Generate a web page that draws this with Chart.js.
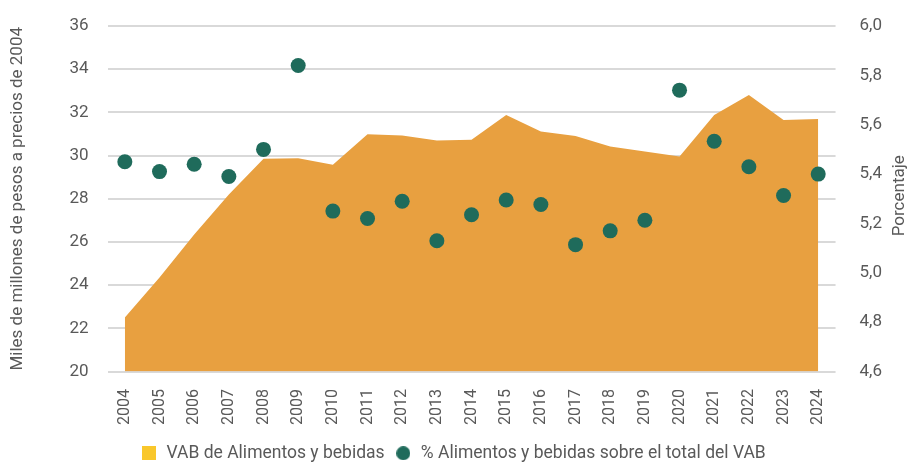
<!DOCTYPE html>
<html>
<head>
<meta charset="utf-8">
<script src="https://cdn.jsdelivr.net/npm/chart.js@4.4.1/dist/chart.umd.min.js"></script>
<style>
    body { margin: 0; background: #fff; }
    #wrap { width: 909px; height: 464px; }
</style>
</head>
<body>
<div id="wrap"><canvas id="myChart" width="909" height="464"></canvas></div>
<script>
// years on the x axis
const years = ['2004', '2005', '2006', '2007', '2008', '2009', '2010', '2011', '2012', '2013', '2014',
    '2015', '2016', '2017', '2018', '2019', '2020', '2021', '2022', '2023', '2024'];

// VAB alimentos y bebidas (miles de millones de pesos de 2004)
const vab = [22.5, 24.35, 26.35, 28.2, 29.85, 29.88, 29.57, 30.99, 30.93, 30.7, 30.73,
    31.88, 31.11, 30.91, 30.42, 30.19, 29.96, 31.88, 32.8, 31.65, 31.69];

// participación en el VAB total (%)
const share = [5.45, 5.41, 5.44, 5.39, 5.5, 5.84, 5.25, 5.22, 5.29, 5.13, 5.235,
    5.295, 5.277, 5.114, 5.17, 5.213, 5.74, 5.533, 5.43, 5.313, 5.4];

const leftTicks = [20, 22, 24, 26, 28, 30, 32, 34, 36];
const rightTicks = [4.6, 4.8, 5.0, 5.2, 5.4, 5.6, 5.8, 6.0];

const textColor = '#595959';
const orange = '#E8A040';
const green = '#1F6B5B';
const legendYellow = '#F9C72B';
Chart.defaults.font.family = "'Roboto', 'Liberation Sans', sans-serif";
Chart.defaults.color = textColor;

// legend swatches: 14px square and 14px dot
function swatch(color, round) {
    const c = document.createElement('canvas');
    c.width = 14; c.height = 14;
    const g = c.getContext('2d');
    g.fillStyle = color;
    if (round) {
        g.beginPath();
        g.arc(7, 7, 7, 0, Math.PI * 2);
        g.fill();
    } else {
        g.fillRect(0, 0, 14, 14);
    }
    return c;
}
const squareSwatch = swatch(legendYellow, false);
const dotSwatch = swatch(green, true);

// keep the tick padding from pushing the plot down
function trimPadding(scale) {
    scale.paddingTop = 10;
    scale.paddingBottom = 10;
}

// right axis title reads bottom-to-top in the original
const rightTitle = {
    id: 'rightTitle',
    afterDraw(chart) {
        const { ctx, chartArea } = chart;
        ctx.save();
        ctx.translate(900, (chartArea.top + chartArea.bottom) / 2 - 3);
        ctx.rotate(-Math.PI / 2);
        ctx.font = "17px 'Roboto', sans-serif";
        ctx.fillStyle = textColor;
        ctx.textAlign = 'center';
        ctx.textBaseline = 'middle';
        ctx.fillText('Porcentaje', 0, 0);
        ctx.restore();
    }
};

const ctx = document.getElementById('myChart').getContext('2d');
new Chart(ctx, {
    type: 'line',
    data: {
        labels: years,
        datasets: [{
            label: '% Alimentos y bebidas sobre el total del VAB',
            data: share,
            yAxisID: 'y1',
            showLine: false,
            pointRadius: 7.5,
            pointHoverRadius: 7.5,
            pointBackgroundColor: green,
            pointBorderWidth: 0,
            borderColor: green,
            backgroundColor: green,
            order: 0
        }, {
            label: 'VAB de Alimentos y bebidas',
            data: vab,
            yAxisID: 'y',
            fill: 'start',
            tension: 0,
            pointRadius: 0,
            borderWidth: 0,
            borderColor: orange,
            backgroundColor: orange,
            order: 1
        }]
    },
    options: {
        responsive: false,
        animation: false,
        layout: { padding: { left: 8, right: 11, top: 26, bottom: -8 } },
        scales: {
            x: {
                offset: true,
                grid: { display: false },
                border: { display: false },
                ticks: {
                    minRotation: 90,
                    maxRotation: 90,
                    font: { size: 16 },
                    color: textColor,
                    padding: 9.5
                }
            },
            y: {
                position: 'left',
                min: 20,
                max: 36,
                afterBuildTicks: axis => { axis.ticks = leftTicks.map(v => ({ value: v })); },
                afterFit: trimPadding,
                grid: { color: '#D9D9D9', lineWidth: 2, drawTicks: false },
                border: { display: false },
                ticks: { font: { size: 17 }, padding: 19, color: textColor },
                title: {
                    display: true,
                    text: 'Miles de millones de pesos a precios de 2004',
                    font: { size: 17 },
                    color: textColor,
                    padding: { top: 0, bottom: 22 }
                }
            },
            y1: {
                position: 'right',
                min: 4.6,
                max: 6.0,
                afterBuildTicks: axis => { axis.ticks = rightTicks.map(v => ({ value: v })); },
                afterFit: trimPadding,
                grid: { display: false },
                border: { display: false },
                ticks: {
                    font: { size: 17 },
                    padding: 16,
                    color: textColor,
                    callback: v => v.toFixed(1).replace('.', ',')
                }
            }
        },
        plugins: {
            tooltip: { enabled: false },
            legend: {
                position: 'bottom',
                reverse: true,
                labels: {
                    usePointStyle: true,
                    boxHeight: 14,
                    font: { size: 17.5 },
                    color: textColor,
                    padding: 10,
                    generateLabels: chart => {
                        return chart.data.datasets.map((ds, i) => ({
                            text: ds.label,
                            datasetIndex: i,
                            fillStyle: i === 1 ? legendYellow : green,
                            strokeStyle: i === 1 ? legendYellow : green,
                            lineWidth: 0,
                            pointStyle: i === 1 ? squareSwatch : dotSwatch,
                            fontColor: textColor
                        }));
                    }
                }
            }
        }
    },
    plugins: [rightTitle]
});
</script>
</body>
</html>
